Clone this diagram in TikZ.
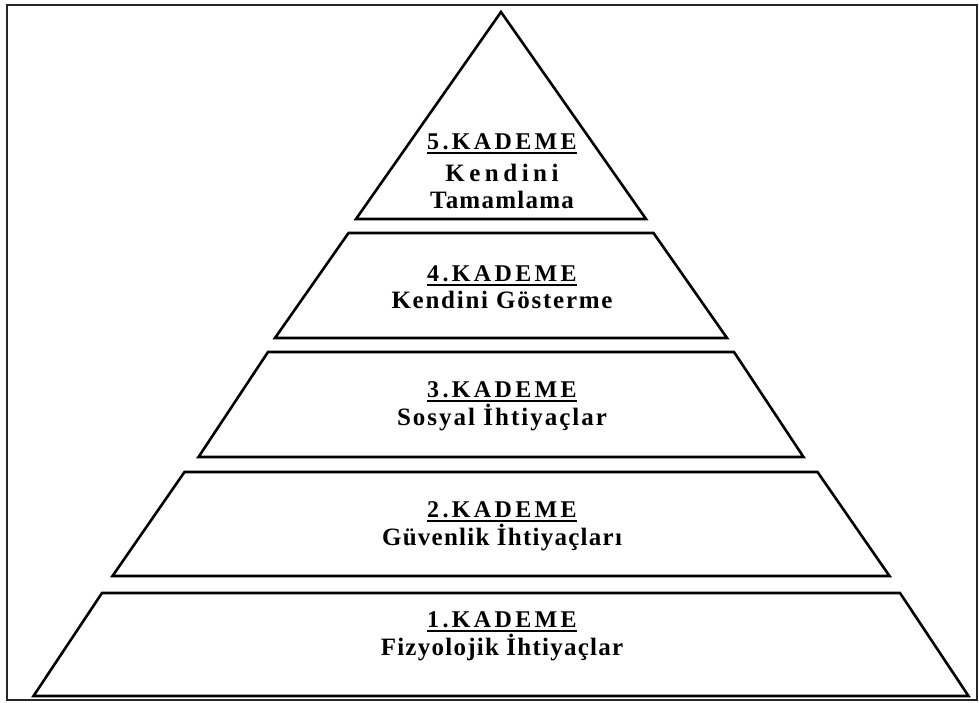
\documentclass[tikz,border=0pt]{standalone}
\usepackage{fontspec}
\setmainfont{Liberation Serif}
% letter-spaced text: #1 = spacing amount, #2 = text
\newcommand{\spacedtext}[2]{{\addfontfeature{LetterSpace=#1}#2}}
\begin{document}
\begin{tikzpicture}[x=1pt,y=-1pt,
  frame/.style={draw=black!85,line width=1.6pt},
  tier/.style={draw=black,line width=2.6pt,line join=miter},
  title/.style={anchor=base,inner sep=0pt,font=\fontsize{24}{28}\selectfont\bfseries},
  label/.style={anchor=base,inner sep=0pt,font=\fontsize{25}{29}\selectfont\bfseries},
  uline/.style={line width=2pt}]
\useasboundingbox (0,0) rectangle (979,702);
\draw[frame] (7,5) rectangle (977,700);

% the five tiers of the pyramid
\draw[tier] (501,12) -- (646,219) -- (356,219) -- cycle;
\draw[tier] (348.5,233) -- (653.5,233) -- (727,338) -- (275,338) -- cycle;
\draw[tier] (268,352) -- (734,352) -- (803.5,457) -- (198.5,457) -- cycle;
\draw[tier] (184.5,472) -- (817.5,472) -- (889.5,576) -- (112.5,576) -- cycle;
\draw[tier] (102,593) -- (900,593) -- (968.5,696) -- (33.5,696) -- cycle;

% tier 5
\node[title] (k5) at (502,149) {\spacedtext{14}{5.KADEME}};
\node[label] (t5a) at (502,181) {\spacedtext{18}{Kendini}};
\node[label] (t5b) at (502,208) {\spacedtext{5}{Tamamlama}};
% tier 4
\node[title] (k4) at (502,281) {\spacedtext{14}{4.KADEME}};
\node[label] (t4) at (502,308) {\spacedtext{7}{Kendini Gösterme}};
% tier 3
\node[title] (k3) at (502,397) {\spacedtext{14}{3.KADEME}};
\node[label] (t3) at (502,425) {\spacedtext{8}{Sosyal İhtiyaçlar}};
% tier 2
\node[title] (k2) at (502,517) {\spacedtext{14}{2.KADEME}};
\node[label] (t2) at (502,545) {\spacedtext{5}{Güvenlik İhtiyaçları}};
% tier 1
\node[title] (k1) at (502,627) {\spacedtext{14}{1.KADEME}};
\node[label] (t1) at (502,655) {\spacedtext{5}{Fizyolojik İhtiyaçlar}};

% underlines of the tier titles
\foreach \n in {k1,k2,k3,k4,k5}
  \draw[uline] ([yshift=-4pt]\n.base west) -- ([yshift=-4pt]\n.base east);
\end{tikzpicture}
\end{document}
